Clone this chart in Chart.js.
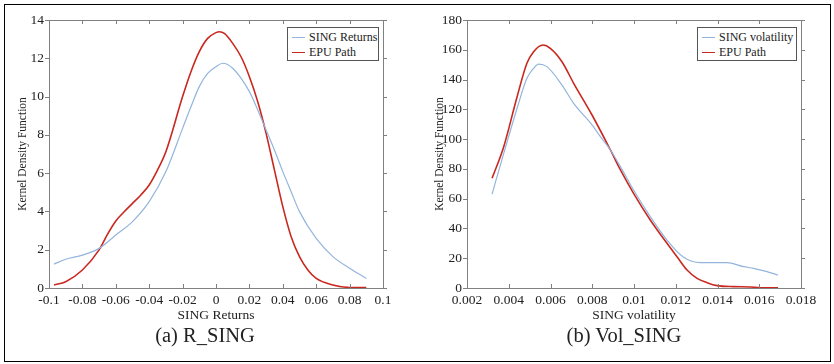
<!DOCTYPE html>
<html>
<head>
<meta charset="utf-8">
<script src="https://cdn.jsdelivr.net/npm/chart.js@4"></script>
<style>
body { margin: 0; background: #fff; }
#fig { position: relative; width: 834px; height: 364px; font-family: "Liberation Serif", "Times New Roman", serif; color: #222; }
#frame { position: absolute; left: 4px; top: 4px; width: 827px; height: 358px; border: 1.5px solid #000; box-sizing: border-box; }
.panel { position: absolute; top: 0; width: 417px; height: 330px; }
.legend { position: absolute; top: 27px; height: 34px; background: #fff; border: 1px solid #555; font-size: 12px; box-sizing: border-box; padding-top: 1.5px; }
.legend .row { display: flex; align-items: center; height: 15px; white-space: nowrap; }
.legend .swatch { display: inline-block; width: 13px; margin: 0 4px 0 4px; }
.caption { position: absolute; top: 324px; font-size: 20.5px; line-height: 1.15; transform: translateX(-50%); white-space: nowrap; }
</style>
</head>
<body>
<div id="fig">
	<div id="frame"></div>
	<div class="panel" style="left:0"><canvas id="cRet"></canvas></div>
	<div class="panel" style="left:417px"><canvas id="cVol"></canvas></div>
	<div class="legend" id="legRet" style="left:287px; width:92px"></div>
	<div class="legend" id="legVol" style="left:697px; width:100px"></div>
	<div class="caption" style="left:205px">(a) R_SING</div>
	<div class="caption" style="left:624px">(b) Vol_SING</div>
</div>
<script>
// --- Data ---
// (a) SING returns
const retSingX = [-0.097, -0.09, -0.08, -0.07, -0.06, -0.05, -0.04, -0.03, -0.02, -0.015, -0.01, -0.005, 0, 0.004, 0.01, 0.02, 0.025, 0.03, 0.035, 0.04, 0.045, 0.05, 0.06, 0.07, 0.08, 0.09];
const retSingY = [1.25, 1.5, 1.72, 2.07, 2.77, 3.47, 4.51, 6.08, 8.34, 9.47, 10.52, 11.21, 11.56, 11.74, 11.48, 10.26, 9.3, 8.25, 7.21, 6.08, 5.03, 3.99, 2.59, 1.64, 1.03, 0.5];
const retEpuX = [-0.097, -0.09, -0.08, -0.07, -0.065, -0.06, -0.055, -0.05, -0.045, -0.04, -0.034, -0.03, -0.02, -0.015, -0.01, -0.005, 0, 0.002, 0.005, 0.01, 0.015, 0.02, 0.025, 0.03, 0.035, 0.04, 0.045, 0.05, 0.055, 0.06, 0.07, 0.08, 0.09];
const retEpuY = [0.16, 0.33, 0.94, 1.99, 2.8, 3.5, 3.98, 4.42, 4.86, 5.38, 6.34, 7.12, 10.0, 11.3, 12.35, 13.04, 13.34, 13.39, 13.3, 12.78, 12.08, 11.04, 9.73, 8.08, 6.16, 4.25, 2.68, 1.64, 0.94, 0.5, 0.16, 0.03, 0.02];

// (b) SING volatility
const volSingX = [0.0032, 0.00376, 0.0044, 0.00487, 0.00519, 0.00543, 0.00583, 0.00655, 0.00711, 0.00799, 0.00839, 0.00887, 0.00935, 0.00998, 0.01078, 0.01158, 0.01238, 0.01318, 0.01398, 0.01445, 0.01525, 0.01573, 0.01637, 0.0169];
const volSingY = [63.1, 90.4, 120.7, 140.8, 147.5, 150.4, 148.7, 136.3, 124, 109.5, 101.6, 92.7, 81.5, 65.8, 47.9, 32.2, 20.6, 17, 17, 17, 14.3, 13.2, 11, 8.7];
const volEpuX = [0.0032, 0.00376, 0.0044, 0.00487, 0.00519, 0.00564, 0.00599, 0.00655, 0.00711, 0.00799, 0.00887, 0.00935, 0.00998, 0.01078, 0.01158, 0.01206, 0.01254, 0.01302, 0.0135, 0.01398, 0.01477, 0.01557, 0.01605, 0.0169];
const volEpuY = [73.7, 94.9, 128.5, 150.9, 158.7, 163.2, 161, 152, 137.5, 116.2, 92.7, 79.3, 63.6, 45.7, 30, 21, 12.1, 6.5, 3.6, 1.6, 0.9, 0.7, 0.2, 0.1];

const retXTicks = { min: -0.1, max: 0.1, step: 0.02 };
const retYTicks = { min: 0, max: 14, step: 2 };
const volXTicks = { min: 0.002, max: 0.018, step: 0.002 };
const volYTicks = { min: 0, max: 180, step: 20 };

const BLUE = "#93b5dc";
const RED = "#c9281f";
const SERIF = "'Liberation Serif', 'Times New Roman', serif";

function pairs(xs, ys) {
	return xs.map((x, i) => ({ x, y: ys[i] }));
}

// box around the plot, x ticks pointing in, y ticks pointing out
const framePlugin = {
	id: "frame",
	afterDraw(chart) {
		const { ctx, chartArea: a, scales } = chart;
		ctx.save();
		ctx.strokeStyle = "#808080";
		ctx.lineWidth = 1;
		ctx.strokeRect(Math.round(a.left) + 0.5, Math.round(a.top) + 0.5, Math.round(a.right - a.left), Math.round(a.bottom - a.top));
		ctx.beginPath();
		scales.x.ticks.forEach((t) => {
			const px = Math.round(scales.x.getPixelForValue(t.value)) + 0.5;
			ctx.moveTo(px, a.bottom);
			ctx.lineTo(px, a.bottom - 4);
			ctx.moveTo(px, a.top);
			ctx.lineTo(px, a.top + 4);
		});
		scales.y.ticks.forEach((t) => {
			const py = Math.round(scales.y.getPixelForValue(t.value)) + 0.5;
			ctx.moveTo(a.left, py);
			ctx.lineTo(a.left - 4, py);
			ctx.moveTo(a.right, py);
			ctx.lineTo(a.right + 4, py);
		});
		ctx.stroke();
		ctx.restore();
	},
};

function makePanel(id, legendId, opt) {
	const datasets = [
		{ label: opt.names[0], data: pairs(opt.blueX, opt.blueY), borderColor: BLUE, borderWidth: 1.2 },
		{ label: opt.names[1], data: pairs(opt.redX, opt.redY), borderColor: RED, borderWidth: 1.6 },
	];
	datasets.forEach((d) => {
		d.pointRadius = 0;
		d.fill = false;
		d.cubicInterpolationMode = "monotone";
	});

	new Chart(document.getElementById(id), {
		type: "line",
		data: { datasets },
		options: {
			responsive: true,
			maintainAspectRatio: false,
			animation: false,
			layout: { padding: { top: 20, right: opt.padRight, left: 0, bottom: 0 } },
			plugins: { legend: { display: false }, tooltip: { enabled: false } },
			scales: {
				x: {
					type: "linear",
					min: opt.xt.min,
					max: opt.xt.max,
					afterFit: (s) => { s.height = 42; },
					grid: { display: false, drawTicks: false },
					border: { display: false },
					ticks: {
						stepSize: opt.xt.step,
						autoSkip: false,
						maxRotation: 0,
						padding: 4,
						color: "#222",
						font: { family: SERIF, size: 13.5 },
						callback: (v) => String(+v.toFixed(4)),
					},
					title: {
						display: true,
						text: opt.xTitle,
						color: "#222",
						font: { family: SERIF, size: 13.5 },
						padding: { top: 0, bottom: 6 },
					},
				},
				y: {
					min: opt.yt.min,
					max: opt.yt.max,
					afterFit: (s) => { s.width = opt.yWidth; },
					grid: { display: false, drawTicks: false },
					border: { display: false },
					ticks: {
						stepSize: opt.yt.step,
						padding: 5,
						color: "#222",
						font: { family: SERIF, size: 13.5 },
					},
					title: {
						display: true,
						text: "Kernel Density Function",
						color: "#222",
						font: { family: SERIF, size: 11.5 },
						padding: { top: 16, bottom: 0 },
					},
				},
			},
		},
		plugins: [framePlugin],
	});

	// legend box inside the plot
	const leg = document.getElementById(legendId);
	datasets.forEach((d) => {
		const row = document.createElement("div");
		row.className = "row";
		const sw = document.createElement("span");
		sw.className = "swatch";
		sw.style.borderTop = d.borderWidth + "px solid " + d.borderColor;
		row.appendChild(sw);
		row.appendChild(document.createTextNode(d.label));
		leg.appendChild(row);
	});
}

makePanel("cRet", "legRet", {
	names: ["SING Returns", "EPU Path"],
	blueX: retSingX, blueY: retSingY,
	redX: retEpuX, redY: retEpuY,
	xt: retXTicks, yt: retYTicks,
	xTitle: "SING Returns",
	yWidth: 49, padRight: 34,
});

makePanel("cVol", "legVol", {
	names: ["SING volatility", "EPU Path"],
	blueX: volSingX, blueY: volSingY,
	redX: volEpuX, redY: volEpuY,
	xt: volXTicks, yt: volYTicks,
	xTitle: "SING volatility",
	yWidth: 50, padRight: 33,
});
</script>
</body>
</html>
